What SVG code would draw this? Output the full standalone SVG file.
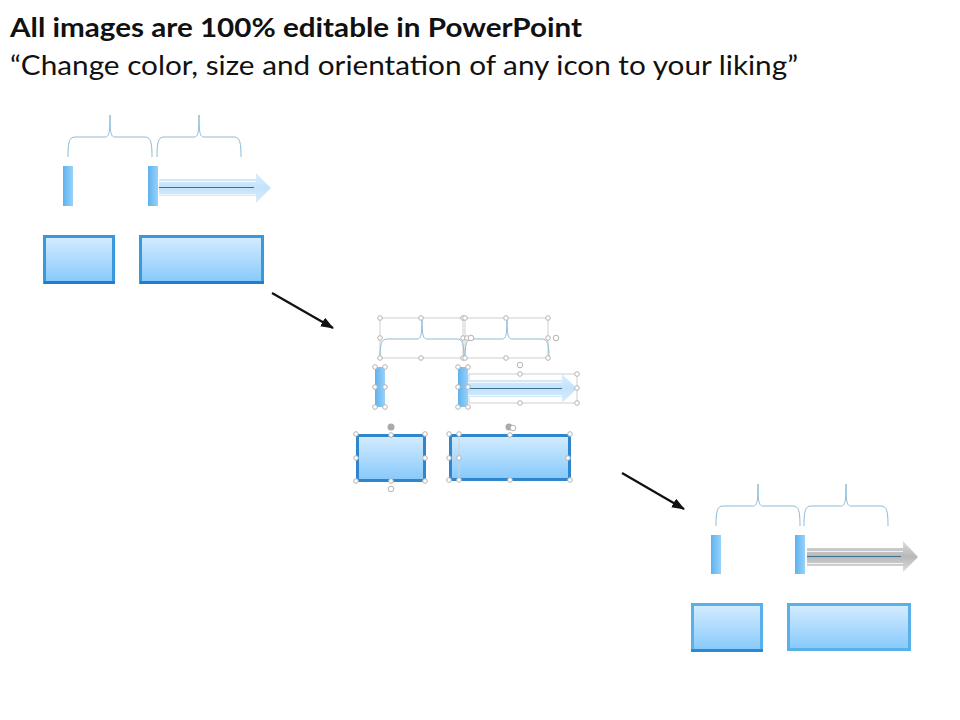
<svg xmlns="http://www.w3.org/2000/svg" width="960" height="720" viewBox="0 0 960 720">
<style>
.t{font-family:Lato,"Liberation Sans",sans-serif;font-size:27px;fill:#111}
.br{fill:none;stroke:#8dbbd8;stroke-width:1}
.sel{fill:none;stroke:#cfcfcf;stroke-width:1}
.h{fill:#fff;stroke:#b4b4b4;stroke-width:1}
.rot{fill:#fff;stroke:#b4b4b4;stroke-width:1}
.bar{fill:url(#barG)}
.box{fill:url(#boxG);stroke:#3a98dd;stroke-width:3}
.box2{fill:url(#boxG);stroke:#2f86cd;stroke-width:3}
.box3{fill:url(#boxG);stroke:#5ab0e8;stroke-width:3}
.low{stroke:#1d7fce;stroke-width:3;fill:none}
.stripe{stroke:#fff;stroke-width:1;fill:none;opacity:.75}
.line{stroke:#3d6f8e;stroke-width:1;fill:none}
.blk{stroke:#111;stroke-width:2.200;fill:none;marker-end:url(#ah)}
</style>
<defs>
<linearGradient id="boxG" x1="0" y1="0" x2="0" y2="1"><stop offset="0" stop-color="#d5ecff"/><stop offset="1" stop-color="#86c9fb"/></linearGradient>
<linearGradient id="barG" x1="0" y1="0" x2="1" y2="0"><stop offset="0" stop-color="#5fb2ee"/><stop offset="1" stop-color="#97d2fb"/></linearGradient>
<linearGradient id="arrB" x1="0" y1="0" x2="0" y2="1"><stop offset="0" stop-color="#dceefc"/><stop offset=".5" stop-color="#c4e2fa"/><stop offset="1" stop-color="#dceefc"/></linearGradient>
<linearGradient id="arrG" x1="0" y1="0" x2="0" y2="1"><stop offset="0" stop-color="#dedede"/><stop offset=".5" stop-color="#b8b8b8"/><stop offset="1" stop-color="#dedede"/></linearGradient>
<marker id="ah" markerUnits="userSpaceOnUse" markerWidth="14" markerHeight="12" refX="12" refY="5" orient="auto"><path d="M0 0L13 5L0 10Z" fill="#111"/></marker>
<path id="brace" class="br" d="M0 42C0 28 1 22 7 22L37 22C41 22 42 18 42 0C42 18 43 22 47 22L77 22C83 22 84 28 84 42"/>
</defs>
<g id="title">
<text class="t" x="10" y="37" font-weight="700" textLength="572" lengthAdjust="spacingAndGlyphs">All images are 100% editable in PowerPoint</text>
<text class="t" x="10" y="75" textLength="788" lengthAdjust="spacingAndGlyphs">“Change color, size and orientation of any icon to your liking”</text>
</g>
<g id="step1">
<use href="#brace" x="68" y="115"/><use href="#brace" x="157" y="115"/>
<rect class="bar" x="63" y="166" width="10" height="40"/>
<rect class="bar" x="148" y="166" width="10" height="40"/>
<path d="M159 179H256V173L271 188L256 203V196H159Z" fill="url(#arrB)"/>
<path class="stripe" d="M159 181.500H256M159 194.500H256"/>
<path class="line" d="M159 187.500H254"/>
<rect class="box" x="44.500" y="236.500" width="69" height="46"/>
<path class="low" d="M44 282.500H115"/>
<rect class="box" x="140.500" y="236.500" width="122" height="46"/>
<path class="low" d="M140 282.500H264"/>
</g>
<g id="step2">
<path class="sel" d="M380 318H463V358H380ZM465 318H548V358H465ZM469 374H577V403H469Z"/>
<use href="#brace" x="380" y="317"/><use href="#brace" x="465" y="317"/>
<rect class="bar" x="375" y="367" width="10" height="40"/>
<rect class="bar" x="458" y="367" width="10" height="40"/>
<path d="M468 380H562V374L577 388.500L562 403V397H468Z" fill="url(#arrB)"/>
<path class="stripe" d="M468 382.500H562M468 395.500H562"/>
<path class="line" d="M468 388.500H562"/>
<rect class="box2" x="357.500" y="435.500" width="67" height="45"/>
<rect class="box2" x="450.500" y="435.500" width="119" height="44"/>
<path class="sel" d="M459 435V480"/>
<g id="handles">
<circle class="h" cx="380" cy="318" r="2.300"/><circle class="h" cx="421" cy="318" r="2.300"/><circle class="h" cx="463" cy="318" r="2.300"/><circle class="h" cx="465" cy="318" r="2.300"/><circle class="h" cx="506" cy="318" r="2.300"/><circle class="h" cx="548" cy="318" r="2.300"/>
<circle class="h" cx="380" cy="338" r="2.300"/><circle class="h" cx="463" cy="338" r="2.300"/><circle class="h" cx="467" cy="338" r="2.300"/><circle class="h" cx="548" cy="338" r="2.300"/><circle class="rot" cx="556" cy="338" r="2.800"/><circle class="rot" cx="471" cy="338" r="2.800"/>
<circle class="h" cx="380" cy="358" r="2.300"/><circle class="h" cx="421" cy="358" r="2.300"/><circle class="h" cx="463" cy="358" r="2.300"/><circle class="h" cx="465" cy="358" r="2.300"/><circle class="h" cx="506" cy="358" r="2.300"/><circle class="h" cx="548" cy="358" r="2.300"/>
<circle class="h" cx="375" cy="367" r="2.300"/><circle class="h" cx="385" cy="367" r="2.300"/><circle class="h" cx="375" cy="387" r="2.300"/><circle class="h" cx="385" cy="387" r="2.300"/><circle class="h" cx="375" cy="407" r="2.300"/><circle class="h" cx="385" cy="407" r="2.300"/>
<circle class="h" cx="458" cy="367" r="2.300"/><circle class="h" cx="468" cy="367" r="2.300"/><circle class="h" cx="458" cy="387" r="2.300"/><circle class="h" cx="468" cy="387" r="2.300"/><circle class="h" cx="458" cy="407" r="2.300"/><circle class="h" cx="468" cy="407" r="2.300"/>
<circle class="rot" cx="520" cy="365" r="2.800"/><circle class="h" cx="520" cy="374" r="2.300"/><circle class="h" cx="577" cy="374" r="2.300"/><circle class="h" cx="577" cy="388" r="2.300"/><circle class="h" cx="577" cy="403" r="2.300"/><circle class="h" cx="520" cy="403" r="2.300"/>
<circle cx="391" cy="427" r="3.500" fill="#aaa"/><circle class="h" cx="356" cy="434" r="2.300"/><circle class="h" cx="391" cy="435" r="2.300"/><circle class="h" cx="425" cy="434" r="2.300"/><circle class="h" cx="356" cy="458" r="2.300"/><circle class="h" cx="425" cy="458" r="2.300"/><circle class="h" cx="356" cy="481" r="2.300"/><circle class="h" cx="391" cy="481" r="2.300"/><circle class="h" cx="425" cy="481" r="2.300"/><circle class="rot" cx="391" cy="489" r="2.800"/>
<circle cx="509" cy="427" r="3.500" fill="#aaa"/><circle class="rot" cx="513" cy="428" r="2.800"/><circle class="h" cx="449" cy="434" r="2.300"/><circle class="h" cx="459" cy="434" r="2.300"/><circle class="h" cx="510" cy="435" r="2.300"/><circle class="h" cx="570" cy="434" r="2.300"/><circle class="h" cx="449" cy="458" r="2.300"/><circle class="h" cx="459" cy="458" r="2.300"/><circle class="h" cx="568" cy="458" r="2.300"/><circle class="h" cx="449" cy="480" r="2.300"/><circle class="h" cx="459" cy="480" r="2.300"/><circle class="h" cx="510" cy="480" r="2.300"/><circle class="h" cx="570" cy="480" r="2.300"/>
</g>
</g>
<g id="step3">
<use href="#brace" x="716" y="484"/><use href="#brace" x="804" y="484"/>
<rect class="bar" x="711" y="535" width="10" height="39"/>
<rect class="bar" x="795" y="535" width="10" height="39"/>
<path d="M807 548H903V541L918 557L903 572V566H807Z" fill="url(#arrG)"/>
<path class="stripe" d="M807 551.500H903M807 563.500H903"/>
<path class="line" d="M807 556.500H901"/>
<rect class="box3" x="692.500" y="604.500" width="69" height="46"/>
<path class="low" d="M691 650.500H763" opacity=".8"/>
<rect class="box3" x="788.500" y="604.500" width="121" height="45"/>
</g>
<g id="connectors">
<path class="blk" d="M272 293L333 328"/>
<path class="blk" d="M622 473L684 509"/>
</g>
</svg>
